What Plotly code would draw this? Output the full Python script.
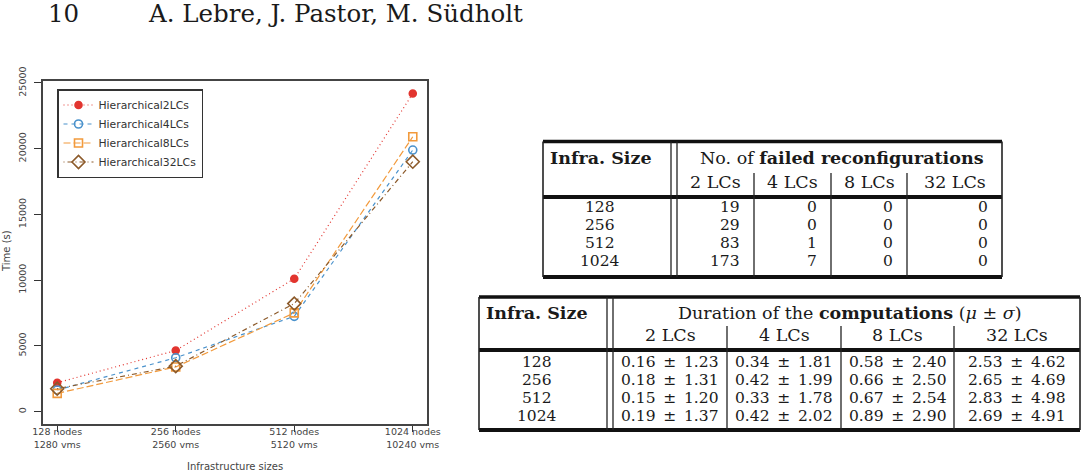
import plotly.graph_objects as go

W, H = 1081, 474

# ---------------- chart data ----------------
size_labels = ["128 nodes<br>1280 vms", "256 nodes<br>2560 vms",
               "512 nodes<br>5120 vms", "1024 nodes<br>10240 vms"]
size_pos = [0, 1, 2, 3]
series_names = ["Hierarchical2LCs", "Hierarchical4LCs", "Hierarchical8LCs", "Hierarchical32LCs"]
hier2 = [2200, 4650, 10110, 24200]
hier4 = [1650, 4100, 7250, 19900]
hier8 = [1390, 3400, 7510, 20910]
hier32 = [1745, 3460, 8220, 19010]
y_tick_vals = [0, 5000, 10000, 15000, 20000, 25000]

# ---------------- table 1 data ----------------
infra_sizes = [128, 256, 512, 1024]
lc_labels = ["2 LCs", "4 LCs", "8 LCs", "32 LCs"]
failed_2 = [19, 29, 83, 173]
failed_4 = [0, 0, 1, 7]
failed_8 = [0, 0, 0, 0]
failed_32 = [0, 0, 0, 0]

# ---------------- table 2 data ----------------
mean_2 = [0.16, 0.18, 0.15, 0.19]
sd_2 = [1.23, 1.31, 1.20, 1.37]
mean_4 = [0.34, 0.42, 0.33, 0.42]
sd_4 = [1.81, 1.99, 1.78, 2.02]
mean_8 = [0.58, 0.66, 0.67, 0.89]
sd_8 = [2.40, 2.50, 2.54, 2.90]
mean_32 = [2.53, 2.65, 2.83, 2.69]
sd_32 = [4.62, 4.69, 4.98, 4.91]

page_number = "10"
page_authors = "A. Lebre, J. Pastor, M. Südholt"

# ---------------- helpers ----------------
def px(x):
    return x / W

def py(y):
    return 1 - y / H

shapes = []
annotations = []
SERIF = "DejaVu Serif"
TXT = "#1a1a1a"
HDR = 17.5  # table header font size
BODY = 15.5  # table body font size

def hline(x0, x1, y, w):
    shapes.append(dict(type="line", xref="paper", yref="paper", x0=px(x0), x1=px(x1),
                       y0=py(y), y1=py(y), line=dict(color="#111", width=w)))

def vline(x, y0, y1, w=1.3):
    shapes.append(dict(type="line", xref="paper", yref="paper", x0=px(x), x1=px(x),
                       y0=py(y0), y1=py(y1), line=dict(color="#222", width=w)))

def text(x, y, s, anchor="center", size=BODY, family=SERIF, color=TXT, angle=0):
    annotations.append(dict(xref="paper", yref="paper", x=px(x), y=py(y), text=s,
                            showarrow=False, xanchor=anchor, yanchor="middle",
                            textangle=angle,
                            font=dict(family=family, size=size, color=color)))

# ---------------- figure / chart ----------------
fig = go.Figure()
styles = [
    dict(color="#e2352f", dash="1px,3px", symbol="circle", size=7),
    dict(color="#4a92cc", dash="4px,4px", symbol="circle-open", size=8),
    dict(color="#f29a3c", dash="7px,3px", symbol="square-open", size=8),
    dict(color="#8c5a2a", dash="1px,3px,5px,3px", symbol="diamond-open", size=10),
]
for name, vals, st in zip(series_names, [hier2, hier4, hier8, hier32], styles):
    fig.add_trace(go.Scatter(
        x=size_pos, y=vals, name=name, mode="lines+markers",
        line=dict(color=st["color"], dash=st["dash"], width=1.2),
        marker=dict(symbol=st["symbol"], size=st["size"], color=st["color"],
                    line=dict(color=st["color"], width=1.6)),
    ))

axis_font = dict(family="DejaVu Sans", size=9.5, color="#444")
fig.update_layout(
    width=W, height=H, autosize=False,
    margin=dict(l=0, r=0, t=0, b=0),
    paper_bgcolor="white", plot_bgcolor="white",
    showlegend=True,
    legend=dict(x=px(57), y=py(89), xanchor="left", yanchor="top",
                bordercolor="#333", borderwidth=1.5, bgcolor="white",
                font=dict(family="DejaVu Sans", size=10.8, color="#333"),
                tracegroupgap=0),
    xaxis=dict(domain=[px(43), px(427)], range=[-0.12, 3.12],
               tickmode="array", tickvals=size_pos, ticktext=size_labels,
               ticks="outside", ticklen=6, tickwidth=1.3, tickcolor="#333",
               showline=True, mirror=True, linecolor="#444", linewidth=1.8,
               showgrid=False, zeroline=False, tickfont=axis_font,
               automargin=False, ticklabelstandoff=-8),
    yaxis=dict(domain=[py(424), py(81)], range=[-940, 25150],
               tickmode="array", tickvals=y_tick_vals,
               ticktext=[str(v) for v in y_tick_vals], tickangle=-90,
               ticks="outside", ticklen=7, tickwidth=1.3, tickcolor="#333",
               showline=True, mirror=True, linecolor="#444", linewidth=1.8,
               showgrid=False, zeroline=False, tickfont=axis_font,
               automargin=False, ticklabelstandoff=4),
)

# axis titles (kept fully inside the page)
text(235, 466, "Infrastructure sizes", size=10, family="DejaVu Sans", color="#444")
text(6, 251, "Time (s)", size=10, family="DejaVu Sans", color="#444", angle=-90)

# ---------------- page header ----------------
text(46, 13.5, page_number, anchor="left", size=24.5)
text(146, 13.5, page_authors, anchor="left", size=24.5)

# ---------------- table 1 ----------------
t1_left, t1_right = 543, 1002
t1_top, t1_hdr, t1_bot = 141.5, 197, 277
t1_cols = [677, 754, 831, 907, 1002]
hline(t1_left, t1_right, t1_top, 3.5)
hline(t1_left, t1_right, t1_hdr, 4)
hline(t1_left, t1_right, t1_bot, 4)
vline(t1_left, t1_top, t1_bot, 1.6)
vline(t1_right, t1_top, t1_bot, 1.6)
vline(671, t1_top, t1_bot, 1.3)
vline(677, t1_top, t1_bot, 1.3)
for xc in t1_cols[1:-1]:
    vline(xc, 173, t1_bot, 1.3)
text(548, 158, "<b>Infra. Size</b>", anchor="left", size=HDR)
text(842, 158, "No. of <b>failed reconfigurations</b>", size=HDR)
for i, lab in enumerate(lc_labels):
    text((t1_cols[i] + t1_cols[i + 1]) / 2, 182, lab, size=HDR)
t1_rows_y = [207, 225, 242.5, 260.5]
failed_cols = [failed_2, failed_4, failed_8, failed_32]
for r, yv in enumerate(t1_rows_y):
    text(600, yv, str(infra_sizes[r]))
    for c, col in enumerate(failed_cols):
        text(t1_cols[c + 1] - 12, yv, str(col[r]), anchor="right")

# ---------------- table 2 ----------------
t2_left, t2_right = 479, 1080
t2_top, t2_hdr, t2_bot = 297, 350, 430
t2_cols = [613, 727, 841, 954, 1080]
hline(t2_left, t2_right, t2_top, 3.5)
hline(t2_left, t2_right, t2_hdr, 4)
hline(t2_left, t2_right, t2_bot, 4)
vline(t2_left, t2_top, t2_bot, 1.6)
vline(t2_right, t2_top, t2_bot, 1.6)
vline(607, t2_top, t2_bot, 1.3)
vline(613, t2_top, t2_bot, 1.3)
for xc in t2_cols[1:-1]:
    vline(xc, 326, t2_bot, 1.3)
text(484, 313, "<b>Infra. Size</b>", anchor="left", size=HDR)
text(849.5, 313, "Duration of the <b>computations</b> (<i>μ</i> ± <i>σ</i>)", size=HDR)
for i, lab in enumerate(lc_labels):
    text((t2_cols[i] + t2_cols[i + 1]) / 2, 335, lab, size=HDR)
t2_rows_y = [362, 380, 398, 416]
dur_cols = [(mean_2, sd_2), (mean_4, sd_4), (mean_8, sd_8), (mean_32, sd_32)]
for r, yv in enumerate(t2_rows_y):
    text(537, yv, str(infra_sizes[r]))
    for c, (means, sds) in enumerate(dur_cols):
        text((t2_cols[c] + t2_cols[c + 1]) / 2, yv,
             f"{means[r]:.2f}\u2002±\u2002{sds[r]:.2f}")

fig.update_layout(shapes=shapes, annotations=annotations)
fig.write_html("out.html")
